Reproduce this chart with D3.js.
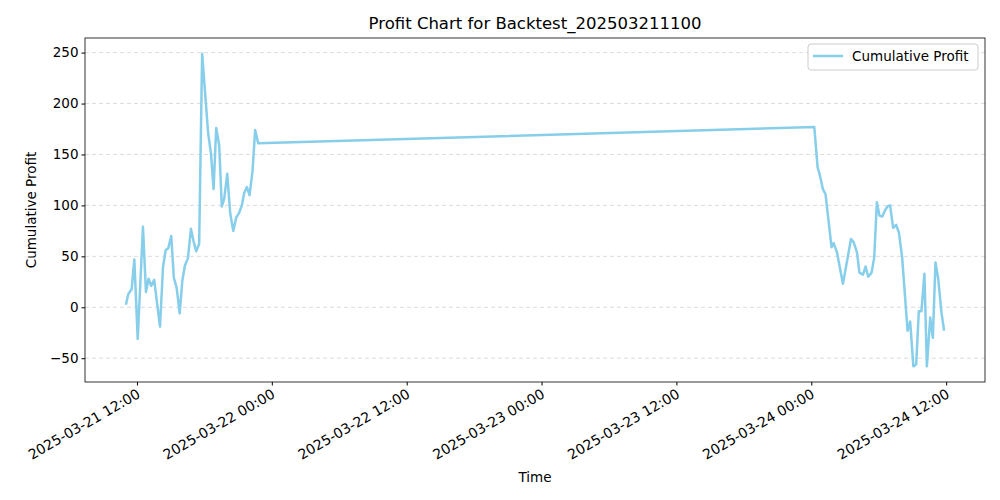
<!DOCTYPE html>
<html><head><meta charset="utf-8">
<script src="https://cdn.jsdelivr.net/npm/d3@7"></script>
<style>body{margin:0;background:#fff}text{font-family:"DejaVu Sans",sans-serif}</style>
</head><body><svg id="c" width="1000" height="500"></svg>
<script>
const times = ["2025-03-21 11:01","2025-03-21 11:14","2025-03-21 11:32","2025-03-21 11:46","2025-03-21 12:04","2025-03-21 12:32","2025-03-21 12:48","2025-03-21 13:02","2025-03-21 13:16","2025-03-21 13:32","2025-03-21 14:03","2025-03-21 14:19","2025-03-21 14:33","2025-03-21 14:47","2025-03-21 15:03","2025-03-21 15:17","2025-03-21 15:32","2025-03-21 15:48","2025-03-21 16:02","2025-03-21 16:16","2025-03-21 16:32","2025-03-21 16:48","2025-03-21 17:02","2025-03-21 17:16","2025-03-21 17:32","2025-03-21 17:48","2025-03-21 18:04","2025-03-21 18:20","2025-03-21 18:35","2025-03-21 18:49","2025-03-21 19:03","2025-03-21 19:19","2025-03-21 19:33","2025-03-21 19:46","2025-03-21 20:02","2025-03-21 20:18","2025-03-21 20:34","2025-03-21 20:50","2025-03-21 21:06","2025-03-21 21:20","2025-03-21 21:32","2025-03-21 21:47","2025-03-21 22:01","2025-03-21 22:17","2025-03-21 22:31","2025-03-21 22:47",
"2025-03-24 00:16","2025-03-24 00:34","2025-03-24 00:44","2025-03-24 01:02","2025-03-24 01:16","2025-03-24 01:48","2025-03-24 01:59","2025-03-24 02:17","2025-03-24 02:49","2025-03-24 03:32","2025-03-24 03:46","2025-03-24 04:04","2025-03-24 04:17","2025-03-24 04:36","2025-03-24 04:50","2025-03-24 05:04","2025-03-24 05:22","2025-03-24 05:36","2025-03-24 05:50","2025-03-24 06:04","2025-03-24 06:19","2025-03-24 06:33","2025-03-24 06:47","2025-03-24 07:01","2025-03-24 07:17","2025-03-24 07:33","2025-03-24 07:48","2025-03-24 08:05","2025-03-24 08:34","2025-03-24 08:48","2025-03-24 09:05","2025-03-24 09:20","2025-03-24 09:34","2025-03-24 09:48","2025-03-24 10:04","2025-03-24 10:17","2025-03-24 10:35","2025-03-24 10:49","2025-03-24 11:03","2025-03-24 11:17","2025-03-24 11:35","2025-03-24 11:49"];
const profit = [2.5,13,18,47,-31,79,15,28,21,27,-19,39,56,58,70,29,19,-6,26,41,48,77,65,55,62,249,210,171,151,116,176,159,99,107,131,92,75,88,93,100,112,118,110,134,174,161,
177,137,131,116,111,59,63,54,23,67,64,54,34,32,40,30,34,49,103,90,89,95,99,100,78,81,73,49,-23,-14,-58,-56,-4,-4,33,-58,-10,-30,44,29,-5,-23];
const xTicks = ["2025-03-21 12:00","2025-03-22 00:00","2025-03-22 12:00","2025-03-23 00:00","2025-03-23 12:00","2025-03-24 00:00","2025-03-24 12:00"];
const yTicks = [-50,0,50,100,150,200,250];

const parse = d3.utcParse("%Y-%m-%d %H:%M");
const data = times.map((t,i)=>({t:parse(t),v:profit[i]}));
const svg = d3.select("#c");
const L=85,R=985,T=38,B=382;
const te = d3.extent(data,d=>d.t), tp=(te[1]-te[0])*0.05;
const x = d3.scaleUtc().domain([new Date(+te[0]-tp),new Date(+te[1]+tp)]).range([L,R]);
const ve = d3.extent(data,d=>d.v), vp=(ve[1]-ve[0])*0.05;
const y = d3.scaleLinear().domain([ve[0]-vp,ve[1]+vp]).range([B,T]);

svg.append("g").selectAll("line").data(yTicks).join("line")
  .attr("x1",L).attr("x2",R).attr("y1",d=>y(d)).attr("y2",d=>y(d))
  .attr("stroke","#d3d3d3").attr("stroke-dasharray","4,3").attr("stroke-width",0.8);

svg.append("path").datum(data).attr("fill","none").attr("stroke","#87ceeb").attr("stroke-width",2.5)
  .attr("stroke-linejoin","round").attr("d",d3.line().x(d=>x(d.t)).y(d=>y(d.v)));

svg.append("rect").attr("x",L).attr("y",T).attr("width",R-L).attr("height",B-T).attr("fill","none").attr("stroke","#000").attr("stroke-width",0.8);

const fmt = d3.utcFormat("%Y-%m-%d %H:%M");
const xa = svg.append("g").attr("transform",`translate(0,${B})`)
  .call(d3.axisBottom(x).tickValues(xTicks.map(parse)).tickFormat(fmt).tickSizeOuter(0).tickSize(3.5));
xa.select(".domain").remove();
xa.selectAll("text").attr("font-size",14).attr("fill","#000").attr("text-anchor","end")
  .attr("y",0).attr("transform","rotate(-30)").attr("dx","-0.3em").attr("dy","1.05em");
const ya = svg.append("g").attr("transform",`translate(${L},0)`)
  .call(d3.axisLeft(y).tickValues(yTicks).tickSize(3.5));
ya.select(".domain").remove();
ya.selectAll("text").attr("font-size",13.5).attr("fill","#000");

svg.append("text").attr("x",(L+R)/2).attr("y",29).attr("text-anchor","middle").attr("font-size",16.5).text("Profit Chart for Backtest_202503211100");
svg.append("text").attr("x",(L+R)/2).attr("y",482).attr("text-anchor","middle").attr("font-size",13.5).text("Time");
svg.append("text").attr("transform",`translate(36,${(T+B)/2}) rotate(-90)`).attr("text-anchor","middle").attr("font-size",13.5).text("Cumulative Profit");

const lg = svg.append("g");
lg.append("rect").attr("x",808).attr("y",44).attr("width",170).attr("height",26).attr("rx",3).attr("fill","#fff").attr("stroke","#ccc");
lg.append("line").attr("x1",813).attr("x2",843).attr("y1",56).attr("y2",56).attr("stroke","#87ceeb").attr("stroke-width",2.5);
lg.append("text").attr("x",852).attr("y",61).attr("font-size",13.5).text("Cumulative Profit");
</script></body></html>
